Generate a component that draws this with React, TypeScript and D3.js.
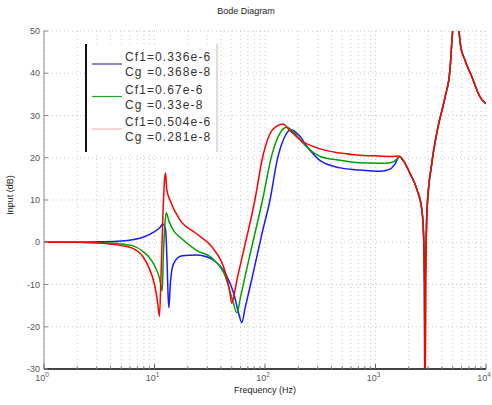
import React from "react";
import * as d3 from "d3";

const W = 492;
const H = 405;

// Frequency (Hz) and magnitude (dB)
const blueHz = [1, 2, 3.16, 5, 6.3, 7.9, 10, 11.2, 11.9, 12.6, 13.0, 13.3, 13.5, 13.9, 14.5, 15.5, 17.8, 24, 30, 34, 43.6, 52, 58, 61.7, 66, 76, 95, 111, 129, 148, 172, 200, 251, 316, 479, 724, 1096, 1350, 1500];
const blueDb = [0, 0, 0.1, 0.3, 0.6, 1.2, 2.5, 3.5, 4.3, 3, -5, -13, -15.5, -10, -6, -4.3, -3.2, -3, -3.5, -4.2, -7.3, -12, -17, -19, -15.6, -8.7, 2.6, 10, 19.5, 24.5, 26.6, 25.5, 22, 19.3, 17.6, 17.1, 16.8, 17.3, 18.5];

const greenHz = [1, 2, 3.16, 5, 6.3, 7.9, 8.9, 10, 11.1, 11.75, 12.0, 12.4, 12.75, 13.5, 15.1, 17, 24, 34, 43.6, 50, 55.8, 60, 72, 95, 115, 138, 158, 182, 229, 316, 479, 724, 1096, 1400, 1585];
const greenDb = [0, 0, -0.1, -0.4, -0.8, -2.2, -3.5, -5.5, -8.5, -11.5, -4, 4, 7, 5, 2.5, 1.2, -1.9, -4, -8, -13, -16.7, -13, -3.7, 10, 20.5, 26, 27.2, 26, 23, 20.3, 19.4, 18.8, 18.7, 18.9, 19.8];

const redHz = [1, 2, 3.16, 5, 6.3, 7.9, 8.9, 10, 10.7, 11.1, 11.45, 11.9, 12.3, 12.6, 12.9, 13.8, 17, 24, 34, 43.6, 47.5, 50, 56, 63, 81, 95, 117, 145, 166, 209, 316, 479, 724, 1096, 1400, 1585];
const redDb = [0, 0, -0.2, -0.8, -1.4, -3.5, -6, -10, -14.5, -17.5, -8, 6, 14.5, 16.4, 12.5, 10, 5.3, 2, -1.5, -7, -11, -14.4, -8.6, -2.8, 10, 20, 26.6, 28, 26.6, 24.2, 22.1, 21.1, 20.6, 20.4, 20.3, 20.4];

// shared high-frequency part (all three curves coincide)
const tailHz = [1650, 1800, 2042, 2377, 2630, 2720, 2773, 2805, 2838, 2884, 2924, 3236, 3681, 4266, 4721, 4955, 5309, 5689, 5888, 6457, 7464, 8831, 10000];
const tailDb = [20.3, 19.2, 16.4, 12.4, 7.6, 2, -10, -45, -10, 2, 7.6, 18.8, 27.3, 34.4, 40.8, 49, 56, 50, 46.5, 43.1, 39.1, 34.4, 32.8];

const yTicks = [50, 40, 30, 20, 10, 0, -10, -20, -30];
const xDecades = [0, 1, 2, 3, 4];

const legendRows = [
  ["Cf1=0.336e-6", "Cg =0.368e-8"],
  ["Cf1=0.67e-6", "Cg =0.33e-8"],
  ["Cf1=0.504e-6", "Cg =0.281e-8"],
];

const seriesColors = ["#1a1aff", "#00a000", "#ff0000"];
const legendLineColors = ["#3030c0", "#20a020", "#f4b8b8"];

const FONT = "'Liberation Sans', Arial, sans-serif";

export default function App() {
  const left = 44, right = 486, top = 31, bottom = 369;
  const x = d3.scaleLog().domain([1, 10000]).range([left, right]);
  const y = d3.scaleLinear().domain([-30, 50]).range([bottom, top]);

  const series = [
    { hz: blueHz.concat(tailHz), db: blueDb.concat(tailDb) },
    { hz: greenHz.concat(tailHz), db: greenDb.concat(tailDb) },
    { hz: redHz.concat(tailHz), db: redDb.concat(tailDb) },
  ];

  const line = d3
    .line<[number, number]>()
    .x((d) => x(d[0]))
    .y((d) => y(d[1]))
    .curve(d3.curveMonotoneX);

  const minor: number[] = [];
  for (let dcd = 0; dcd < 4; dcd++) {
    for (let m = 2; m <= 9; m++) minor.push(m * Math.pow(10, dcd));
  }
  const majors = xDecades.map((e) => Math.pow(10, e));

  const gridColor = "#c8c8c8";

  return (
    <svg
      width={W}
      height={H}
      style={{ position: "absolute", left: 0, top: 0, background: "#fff" }}
      fontFamily={FONT}
    >
      <defs>
        <clipPath id="plotclip">
          <rect x={left} y={top} width={right - left} height={bottom - top} />
        </clipPath>
      </defs>

      {/* grid */}
      {majors.concat(minor).map((v, i) => (
        <line
          key={"gx" + i}
          x1={x(v)}
          x2={x(v)}
          y1={top}
          y2={bottom}
          stroke={gridColor}
          strokeWidth={1}
          strokeDasharray="1 3"
        />
      ))}
      {yTicks.map((v, i) => (
        <line
          key={"gy" + i}
          x1={left}
          x2={right}
          y1={y(v)}
          y2={y(v)}
          stroke={gridColor}
          strokeWidth={1}
          strokeDasharray="1 3"
        />
      ))}

      {/* curves */}
      <g clipPath="url(#plotclip)">
        {series.map((s, i) => (
          <path
            key={"s" + i}
            d={line(s.hz.map((h, j) => [h, s.db[j]] as [number, number])) || ""}
            fill="none"
            stroke={seriesColors[i]}
            strokeWidth={1.5}
            strokeLinejoin="round"
          />
        ))}
      </g>

      {/* axes */}
      <line x1={left} x2={left} y1={top} y2={bottom} stroke="#8a8a8a" strokeWidth={1} />
      <line x1={left} x2={right} y1={bottom} y2={bottom} stroke="#444" strokeWidth={2} />

      {/* y ticks */}
      {yTicks.map((v, i) => (
        <g key={"yt" + i}>
          <line x1={left} x2={left + 4} y1={y(v)} y2={y(v)} stroke="#888" />
          <text
            x={left - 4}
            y={y(v)}
            dy="0.35em"
            textAnchor="end"
            fontSize={9}
            fill="#555"
          >
            {v}
          </text>
        </g>
      ))}

      {/* x ticks */}
      {majors.map((v, i) => (
        <g key={"xt" + i}>
          <line x1={x(v)} x2={x(v)} y1={bottom} y2={bottom - 5} stroke="#666" />
          <text x={x(v) - 2} y={bottom + 12} textAnchor="middle" fontSize={9} fill="#555">
            10
            <tspan dy={-4} fontSize={6.5}>
              {xDecades[i]}
            </tspan>
          </text>
        </g>
      ))}
      {minor.map((v, i) => (
        <line key={"xm" + i} x1={x(v)} x2={x(v)} y1={bottom} y2={bottom - 3} stroke="#888" />
      ))}

      {/* labels */}
      <text x={246} y={14} textAnchor="middle" fontSize={9} fill="#222">
        Bode Diagram
      </text>
      <text x={265} y={393} textAnchor="middle" fontSize={9} fill="#222">
        Frequency (Hz)
      </text>
      <text
        transform={`translate(13, 195) rotate(-90)`}
        textAnchor="middle"
        fontSize={9}
        fill="#222"
      >
        Input (dB)
      </text>

      {/* legend */}
      <rect x={86} y={44} width={131} height={108} fill="#fff" stroke="none" />
      <line x1={86} x2={86} y1={44} y2={152} stroke="#111" strokeWidth={2} />
      <line x1={217} x2={217} y1={44} y2={152} stroke="#bbb" strokeWidth={1} />
      {legendRows.map((rows, i) => {
        const cy = 64 + i * 32.5;
        return (
          <g key={"lg" + i}>
            <line x1={92} x2={122} y1={cy} y2={cy} stroke={legendLineColors[i]} strokeWidth={1.2} />
            <text x={125} y={cy - 3} fontSize={12} letterSpacing={1.1} fill="#333">
              {rows[0]}
            </text>
            <text x={125} y={cy + 12} fontSize={12} letterSpacing={1.1} fill="#333">
              {rows[1]}
            </text>
          </g>
        );
      })}
    </svg>
  );
}
